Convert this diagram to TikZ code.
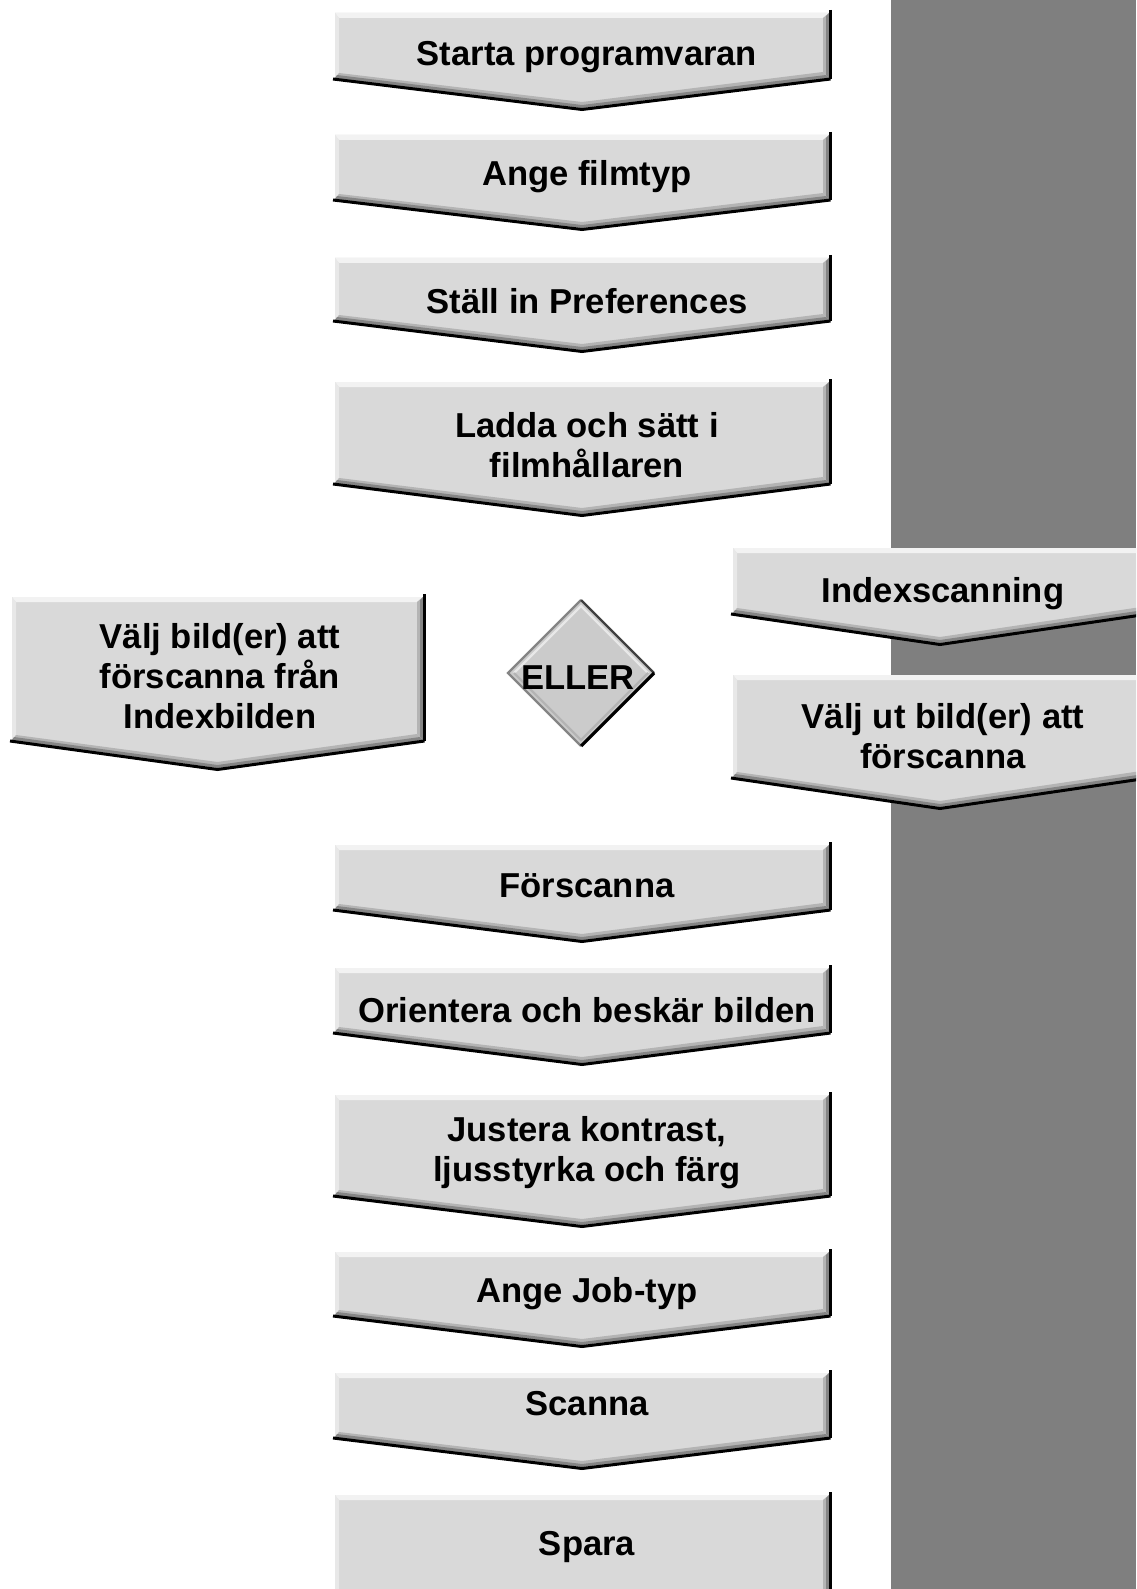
\documentclass[tikz,border=0pt]{standalone}
\usepackage{fontspec}
\setmainfont{Liberation Sans}
\definecolor{cBar}{HTML}{7F7F7F}
\definecolor{cBox}{HTML}{D9D9D9}
\definecolor{cTop}{HTML}{F2F2F2}
\definecolor{cLeft}{HTML}{E8E8E8}
\definecolor{cShadeA}{HTML}{B4B4B4}
\definecolor{cShadeB}{HTML}{858585}
\definecolor{cDia}{HTML}{CBCBCB}
\tikzset{
  chevfill/.style={fill=cBox},
  bevtop/.style={fill=cTop},
  bevleft/.style={fill=cLeft},
  bevA/.style={fill=cShadeA},
  bevB/.style={fill=cShadeB},
  shadowline/.style={draw=black, line width=1.5pt, line join=miter},
  label/.style={font=\fontsize{17.3pt}{20pt}\selectfont\bfseries, inner sep=0pt, align=center, anchor=base, text=black},
}
% L R T S P
\newcommand\chevshape[5]{%
  \pgfmathsetmacro\cx{(#1+#2)/2}%
  \fill[chevfill] (#1,#3) -- (#2,#3) -- (#2,#4) -- (\cx,#5) -- (#1,#4) -- cycle;
  \fill[bevtop] (#1,#3) -- (#2,#3) -- (#2-6,#3+5) -- (#1+4,#3+5) -- cycle;
  \fill[bevleft] (#1,#3) -- (#1+4,#3+5) -- (#1+4,#4-5) -- (#1,#4) -- cycle;
  \fill[bevA] (#2,#3) -- (#2,#4) -- (#2-6,#4-6) -- (#2-6,#3+5) -- cycle;
  \fill[bevB] (#2,#3) -- (#2,#4) -- (#2-3,#4-3) -- (#2-3,#3+3) -- cycle;
  \fill[bevA] (#1,#4) -- (\cx,#5) -- (#2,#4) -- (#2-6,#4-6) -- (\cx,#5-6) -- (#1+4,#4-5) -- cycle;
  \fill[bevB] (#1,#4) -- (\cx,#5) -- (#2,#4) -- (#2-3,#4-3) -- (\cx,#5-3) -- (#1+2,#4-3) -- cycle;
  \draw[shadowline] (#2+1.5,#3-3) -- (#2+1.5,#4+1);
  \draw[shadowline] (#1-2,#4+1) -- (\cx,#5+1.5) -- (#2+1.5,#4+1);
}
\begin{document}
\begin{tikzpicture}[x=0.5pt,y=-0.5pt]
\useasboundingbox (0,0) rectangle (1136,1589);
\clip (0,0) rectangle (1136,1589);
\fill[white] (0,0) rectangle (1136,1589);
\fill[cBar] (891,0) rectangle (1136,1589);

\chevshape{335}{829}{13}{78}{108}
\chevshape{335}{829}{135}{199}{228}
\chevshape{335}{829}{258}{320}{350}
\chevshape{335}{829}{382}{483}{514}
\chevshape{12}{423}{597}{740}{768}
\chevshape{733}{1147}{548}{613}{643}
\chevshape{733}{1147}{675}{777}{807}
\chevshape{335}{829}{845}{909}{940}
\chevshape{335}{829}{968}{1032}{1063}
\chevshape{335}{829}{1095}{1195}{1225}
\chevshape{335}{829}{1252}{1315}{1345}
\chevshape{335}{829}{1373}{1437}{1467}
\chevshape{335}{829}{1495}{1620}{1650}

% diamond
\coordinate (dT) at (581,600);
\coordinate (dR) at (654,673);
\coordinate (dB) at (581,746);
\coordinate (dL) at (508,673);
\fill[cDia] (dT) -- (dR) -- (dB) -- (dL) -- cycle;
\draw[color=cLeft, line width=1.2pt] (514,673) -- (581,606) -- (648,673);
\draw[color=cShadeA, line width=1.2pt] (648,673) -- (581,740) -- (514,673);
\draw[color=cShadeB, line width=1.2pt] (dB) -- (dL) -- (dT);
\draw[color=black!75, line width=1.2pt] (dT) -- (dR);
\draw[color=black, line width=1.6pt] (dR) -- (dB);

\node[label] (n1) at (587,66) {Starta programvaran};
\node[label] (n2) at (587,186) {Ange filmtyp};
\node[label] (n3) at (587,313) {Ställ in Preferences};
\node[label] (n4) at (587,477) {Ladda och sätt i\\filmhållaren};
\node[label] (n5) at (220,728) {Välj bild(er) att\\förscanna från\\Indexbilden};
\node[label] (eller) at (578,689) {ELLER};
\node[label] (n6) at (943,602) {Indexscanning};
\node[label] (n7) at (943,768) {Välj ut bild(er) att\\förscanna};
\node[label] (n8) at (587,897) {Förscanna};
\node[label] (n9) at (587,1022) {Orientera och beskär bilden};
\node[label] (n10) at (587,1181) {Justera kontrast,\\ljusstyrka och färg};
\node[label] (n11) at (587,1302) {Ange Job-typ};
\node[label] (n12) at (587,1415) {Scanna};
\node[label] (n13) at (587,1555) {Spara};
\end{tikzpicture}
\end{document}
